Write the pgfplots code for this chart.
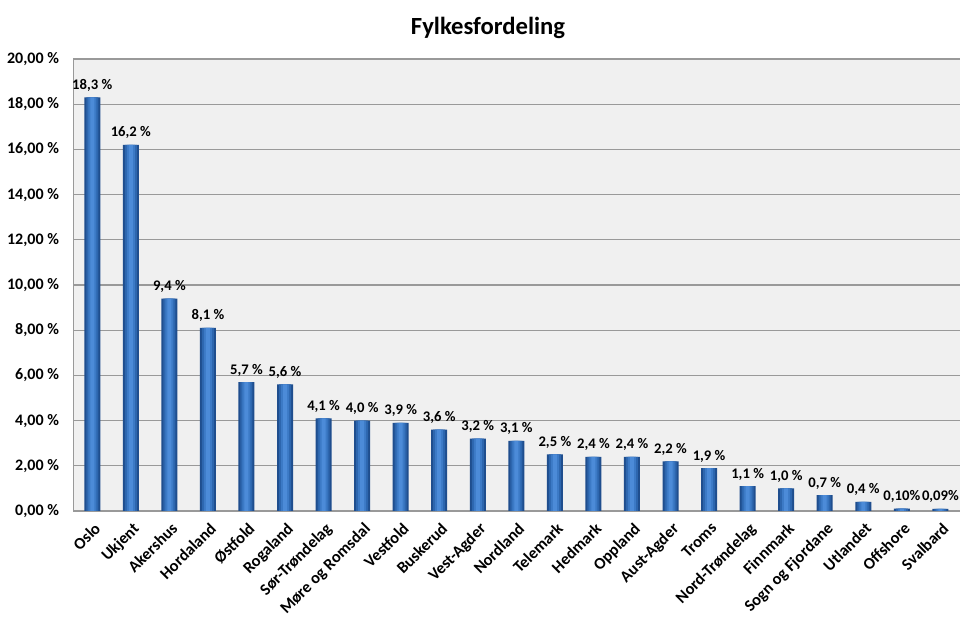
\documentclass[border=0pt]{standalone}
\usepackage{pgfplots}
\usepackage{pgfplotstable}
\pgfplotsset{compat=1.18}
\usepackage{fontspec}
\setmainfont{Carlito}
\definecolor{barA}{HTML}{1F4E8E}
\definecolor{barB}{HTML}{2D66AE}
\definecolor{barC}{HTML}{3C7AC6}
\definecolor{barD}{HTML}{4C8BD8}
\definecolor{plotbg}{HTML}{F0F0F0}
\definecolor{gridc}{HTML}{999999}
\pgfplotstableread[col sep=semicolon]{
x;y;lab
0;18.3;{18,3 \%}
1;16.2;{16,2 \%}
2;9.4;{9,4 \%}
3;8.1;{8,1 \%}
4;5.7;{5,7 \%}
5;5.6;{5,6 \%}
6;4.1;{4,1 \%}
7;4.0;{4,0 \%}
8;3.9;{3,9 \%}
9;3.6;{3,6 \%}
10;3.2;{3,2 \%}
11;3.1;{3,1 \%}
12;2.5;{2,5 \%}
13;2.4;{2,4 \%}
14;2.4;{2,4 \%}
15;2.2;{2,2 \%}
16;1.9;{1,9 \%}
17;1.1;{1,1 \%}
18;1.0;{1,0 \%}
19;0.7;{0,7 \%}
20;0.4;{0,4 \%}
21;0.10;{0,10\%}
22;0.09;{0,09\%}
}\datatable
\begin{document}
\begin{tikzpicture}
\path[use as bounding box, fill=white] (0pt,0pt) rectangle (732pt,473.25pt);
\node[font=\bfseries\fontsize{18.5}{22}\selectfont] at (366pt,452pt) {Fylkesfordeling};
\begin{axis}[
  at={(54.75pt,90pt)}, anchor=south west,
  scale only axis, width=665pt, height=339pt,
  xmin=-0.5, xmax=22.5, ymin=0, ymax=20,
  axis background/.style={fill=plotbg},
  axis line style={gridc},
  axis x line*=bottom, axis y line*=left,
  ytick={0,2,...,20},
  yticklabels={{0,00 \%},{2,00 \%},{4,00 \%},{6,00 \%},{8,00 \%},{10,00 \%},{12,00 \%},{14,00 \%},{16,00 \%},{18,00 \%},{20,00 \%}},
  xtick={0,...,22},
  xticklabels={Oslo,Ukjent,Akershus,Hordaland,Østfold,Rogaland,Sør-Trøndelag,Møre og Romsdal,Vestfold,Buskerud,Vest-Agder,Nordland,Telemark,Hedmark,Oppland,Aust-Agder,Troms,Nord-Trøndelag,Finnmark,Sogn og Fjordane,Utlandet,Offshore,Svalbard},
  major tick length=0pt,
  ymajorgrids, grid style={gridc, line width=0.8pt},
  yticklabel style={font=\bfseries\fontsize{12}{14}\selectfont, xshift=-7pt},
  xticklabel style={font=\bfseries\fontsize{12.3}{14}\selectfont, rotate=45, anchor=north east, inner sep=1pt, yshift=-5pt, xshift=-4pt},
  ybar, bar shift=0pt,
]
\addplot[draw=none, fill=barA, bar width=12pt] table[x=x,y=y] {\datatable};
\addplot[draw=none, fill=barB, bar width=9pt] table[x=x,y=y] {\datatable};
\addplot[draw=none, fill=barC, bar width=6pt] table[x=x,y=y] {\datatable};
\addplot[draw=none, fill=barD, bar width=3pt,
  nodes near coords, point meta=explicit symbolic,
  every node near coord/.append style={font=\bfseries\fontsize{11}{13}\selectfont, black, yshift=1pt}]
  table[x=x,y=y,meta=lab] {\datatable};
\end{axis}
\end{tikzpicture}
\end{document}
